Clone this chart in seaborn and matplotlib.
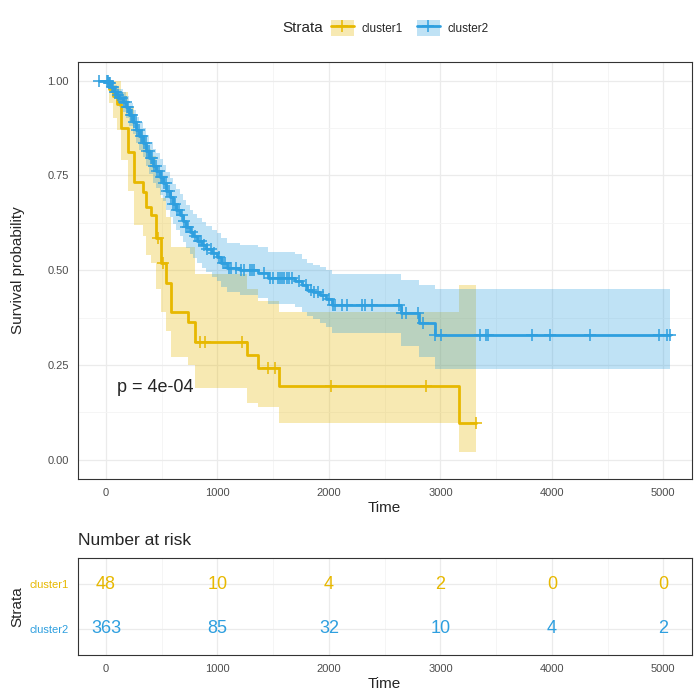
import matplotlib
matplotlib.use("Agg")
import matplotlib.pyplot as plt
from matplotlib.patches import Patch
from matplotlib.lines import Line2D
from matplotlib.legend_handler import HandlerTuple
from matplotlib.ticker import MultipleLocator
import seaborn as sns
import numpy as np
import pandas as pd

sns.set_style("white")
plt.rcParams["font.family"] = ["Liberation Sans", "DejaVu Sans"]

# Kaplan-Meier estimates
strata = ["cluster1", "cluster2"]
colors = ["#E7B800", "#2E9FDF"]

yel_time = [0, 30, 60, 100, 134, 196, 250, 330, 357, 402, 446, 491, 536, 580,
            732, 795, 1268, 1366, 1554, 3170]
yel_surv = [1.0, .979, .958, .937, .875, .812, .733, .707, .667, .646, .586, .52,
            .467, .39, .364, .311, .277, .243, .195, .097]
yel_upper = [1.0, 1.0, 1.0, 1.0, .97, .93, .87, .85, .82, .80, .75, .69, .64, .56,
             .56, .49, .45, .42, .39, .46]
yel_lower = [1.0, .94, .90, .87, .79, .71, .62, .59, .54, .52, .45, .39, .34, .27,
             .25, .19, .15, .14, .097, .02]
yel_end = 3321
yel_censor = [464, 509, 840, 890, 1220, 1455, 1518, 2018, 2875, 3321]

blue_time = [-60, 20, 45, 70, 95, 120, 150, 180, 210, 240, 270, 300, 330, 360, 390,
             420, 450, 480, 510, 540, 570, 600, 630, 660, 690, 720, 750, 780, 820,
             860, 900, 950, 1000, 1030, 1090, 1200, 1360, 1450, 1700, 1760, 1800,
             1860, 1920, 1970, 2030, 2650, 2810, 2950]
blue_surv = [1.0, .994, .983, .970, .962, .954, .944, .93, .91, .89, .87, .853, .836,
             .815, .795, .775, .762, .745, .73, .71, .692, .675, .66, .645, .63, .615,
             .602, .59, .578, .566, .556, .545, .535, .52, .507, .50, .493, .48, .472,
             .46, .449, .443, .435, .425, .409, .388, .361, .330]
blue_upper = [1.0, 1.0, .995, .988, .982, .977, .97, .958, .94, .922, .905, .89, .875,
              .856, .838, .82, .808, .792, .778, .76, .743, .727, .713, .70, .686, .672,
              .66, .648, .637, .626, .617, .607, .598, .584, .572, .566, .56, .548, .542,
              .53, .52, .515, .508, .50, .49, .475, .46, .45]
blue_lower = [1.0, .987, .97, .952, .942, .93, .918, .902, .88, .858, .836, .817, .798,
              .775, .753, .731, .717, .698, .682, .66, .641, .623, .607, .59, .574, .558,
              .544, .532, .518, .505, .494, .482, .471, .456, .442, .434, .426, .412, .403,
              .39, .378, .371, .362, .35, .335, .30, .27, .24]
blue_end = 5060
blue_censor = [-60, 5, 15, 25, 40, 55, 65, 80, 90, 110, 130, 140, 160, 175, 190, 200,
               225, 235, 250, 265, 280, 295, 310, 320, 345, 355, 370, 385, 400, 415,
               430, 445, 460, 475, 490, 505, 520, 535, 550, 565, 580, 600, 615, 640,
               655, 680, 700, 720, 740, 770, 800, 830, 850, 880, 910, 940, 970, 1010,
               1050, 1070, 1100, 1120, 1170, 1210, 1240, 1290, 1310, 1330, 1420, 1470,
               1500, 1540, 1560, 1580, 1600, 1620, 1640, 1670, 1730, 1790, 1840, 1870,
               1900, 1950, 2000, 2040, 2054, 2116, 2161, 2295, 2321, 2384, 2625, 2652,
               2696, 2795, 2848, 2955, 3009, 3357, 3411, 3429, 3821, 3982, 4339, 4964,
               5036, 5060]

# Number at risk table
risk_times = [0, 1000, 2000, 3000, 4000, 5000]
risk_cluster1 = [48, 10, 4, 2, 0, 0]
risk_cluster2 = [363, 85, 32, 10, 4, 2]

fits = [
    (yel_time, yel_surv, yel_upper, yel_lower, yel_end, yel_censor),
    (blue_time, blue_surv, blue_upper, blue_lower, blue_end, blue_censor),
]

curve_rows, cens_rows = [], []
fig = plt.figure(figsize=(7, 7), dpi=100)
ax = fig.add_axes([0.111, 0.316, 0.877, 0.596])
ax2 = fig.add_axes([0.111, 0.064, 0.877, 0.139])

for name, col, (t, s, up, lo, end, cens) in zip(strata, colors, fits):
    t_ext = list(t) + [end]
    ax.fill_between(t_ext, list(lo) + [lo[-1]], list(up) + [up[-1]], step="post",
                    color=col, alpha=0.3, lw=0)
    for ti, si in zip(t_ext, list(s) + [s[-1]]):
        curve_rows.append({"time": ti, "surv": si, "strata": name})
    idx = np.searchsorted(t, cens, side="right") - 1
    for ci, k in zip(cens, idx):
        cens_rows.append({"time": ci, "surv": s[k], "strata": name})

curves = pd.DataFrame(curve_rows)
cens_df = pd.DataFrame(cens_rows)
pal = dict(zip(strata, colors))

sns.lineplot(data=curves, x="time", y="surv", hue="strata", palette=pal,
             drawstyle="steps-post", estimator=None, sort=False, lw=2,
             legend=False, ax=ax)
for name in strata:
    sub = cens_df[cens_df["strata"] == name]
    ax.plot(sub["time"], sub["surv"], ls="none", marker="+", ms=8, mew=1.1,
            color=pal[name])

ax.text(100, 0.19, "p = 4e-04", fontsize=13, va="center", ha="left")

xlim = (-254, 5254)
for a in (ax, ax2):
    a.set_xlim(*xlim)
    a.set_xticks(risk_times)
    a.xaxis.set_minor_locator(MultipleLocator(500))
    a.grid(which="major", color="#EBEBEB", lw=0.9)
    a.grid(which="minor", color="#F4F4F4", lw=0.6)
    a.set_axisbelow(True)
    for sp in a.spines.values():
        sp.set_color("#333333")
        sp.set_linewidth(0.8)
    a.tick_params(which="major", length=3, color="#333333", labelsize=8,
                  labelcolor="#4D4D4D")
    a.tick_params(which="minor", length=0)

ax.set_ylim(-0.05, 1.05)
ax.set_yticks([0, 0.25, 0.5, 0.75, 1.0])
ax.set_yticklabels(["0.00", "0.25", "0.50", "0.75", "1.00"])
ax.yaxis.set_minor_locator(MultipleLocator(0.125))
ax.set_xlabel("Time", fontsize=11, labelpad=2)
ax.set_ylabel("Survival probability", fontsize=11, labelpad=16)

# risk table
for row, (name, vals) in enumerate(zip(strata, [risk_cluster1, risk_cluster2]), start=1):
    for t, n in zip(risk_times, vals):
        ax2.text(t, row, str(n), ha="center", va="center", fontsize=13,
                 color=pal[name])
ax2.set_ylim(2.6, 0.4)
ax2.set_yticks([1, 2])
ax2.set_yticklabels(strata)
ax2.yaxis.set_minor_locator(MultipleLocator(10))
for lbl, col in zip(ax2.get_yticklabels(), colors):
    lbl.set_color(col)
ax2.set_xlabel("Time", fontsize=11, labelpad=2)
ax2.set_ylabel("Strata", fontsize=11, labelpad=4)
ax2.set_title("Number at risk", loc="left", fontsize=12.5, pad=9)

# legend on top
handles = [(Patch(facecolor=c, alpha=0.3, lw=0),
            Line2D([], [], color=c, lw=2, marker="+", ms=8, mew=1.1)) for c in colors]
fig.text(0.404, 0.96, "Strata", fontsize=11, va="center", ha="left")
fig.legend(handles, strata, handler_map={tuple: HandlerTuple(ndivide=1)},
           loc="center", bbox_to_anchor=(0.585, 0.96), ncol=2, frameon=False,
           fontsize=8.5, handlelength=2.0, handleheight=1.8, columnspacing=1.2,
           handletextpad=0.6)

fig.savefig("out.png", dpi=100)
